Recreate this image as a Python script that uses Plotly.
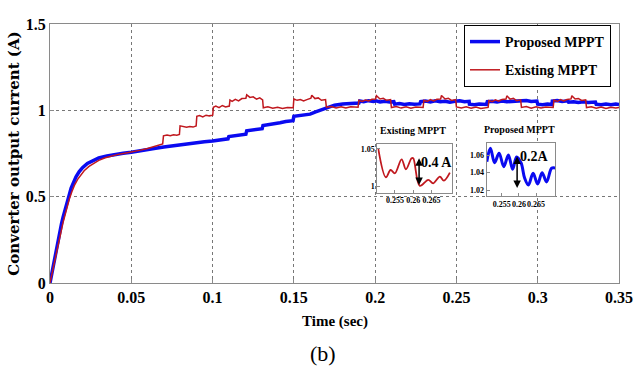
import plotly.graph_objects as go

# ---------------- data ----------------
prop_t = [0, 0.001, 0.002, 0.003, 0.004, 0.005, 0.006, 0.007, 0.008, 0.009, 0.010, 0.011,
          0.012, 0.013, 0.0145, 0.016, 0.018, 0.020, 0.023, 0.026, 0.030, 0.035, 0.040,
          0.045, 0.050, 0.055, 0.060, 0.065, 0.070, 0.075, 0.080, 0.085, 0.090, 0.095,
          0.100, 0.105, 0.1095, 0.110, 0.115, 0.1205, 0.121, 0.125, 0.1305, 0.131, 0.136,
          0.1415, 0.145, 0.1495, 0.150, 0.155, 0.160, 0.163, 0.167, 0.171, 0.175, 0.180,
          0.185, 0.190, 0.1905, 0.193, 0.196, 0.199, 0.2005, 0.203, 0.206, 0.209, 0.2115,
          0.212, 0.215, 0.218, 0.221, 0.224, 0.2275, 0.228, 0.231, 0.234, 0.237, 0.240,
          0.243, 0.246, 0.249, 0.252, 0.255, 0.2578, 0.258, 0.261, 0.264, 0.2685, 0.269,
          0.272, 0.275, 0.278, 0.281, 0.2865, 0.287, 0.290, 0.293, 0.296, 0.2995, 0.300,
          0.303, 0.306, 0.3088, 0.309, 0.312, 0.315, 0.3185, 0.319, 0.322, 0.325, 0.328,
          0.331, 0.3355, 0.336, 0.339, 0.342, 0.345, 0.348, 0.350]
prop_i = [0, 0.05, 0.11, 0.16, 0.21, 0.26, 0.30, 0.34, 0.38, 0.41, 0.45, 0.48,
          0.515, 0.55, 0.585, 0.615, 0.645, 0.668, 0.692, 0.708, 0.724, 0.736, 0.745,
          0.751, 0.757, 0.763, 0.772, 0.780, 0.788, 0.795, 0.800, 0.807, 0.812, 0.818,
          0.822, 0.828, 0.835, 0.848, 0.855, 0.862, 0.882, 0.888, 0.894, 0.912, 0.918,
          0.928, 0.935, 0.940, 0.965, 0.972, 0.978, 0.990, 1.005, 1.020, 1.030, 1.037,
          1.040, 1.042, 1.054, 1.050, 1.056, 1.051, 1.055, 1.049, 1.053, 1.048, 1.050,
          1.036, 1.039, 1.034, 1.038, 1.035, 1.037, 1.050, 1.054, 1.049, 1.055, 1.050,
          1.053, 1.047, 1.052, 1.055, 1.050, 1.052, 1.036, 1.033, 1.037, 1.034, 1.050,
          1.053, 1.048, 1.054, 1.050, 1.051, 1.056, 1.052, 1.057, 1.051, 1.054, 1.036,
          1.033, 1.037, 1.034, 1.054, 1.057, 1.051, 1.055, 1.047, 1.050, 1.045, 1.049,
          1.046, 1.048, 1.035, 1.032, 1.037, 1.033, 1.036, 1.034]

exist_t = [0, 0.001, 0.0015, 0.002, 0.003, 0.004, 0.005, 0.006, 0.007, 0.008, 0.009, 0.010,
           0.011, 0.012, 0.0135, 0.015, 0.017, 0.019, 0.021, 0.024, 0.027, 0.030, 0.034,
           0.038, 0.042, 0.046, 0.050, 0.055, 0.060, 0.065, 0.0693,
           0.0698, 0.072, 0.074, 0.076, 0.078, 0.0796,
           0.0800, 0.082, 0.084, 0.086, 0.088, 0.0899,
           0.0903, 0.092, 0.094, 0.096, 0.098, 0.1001,
           0.1005, 0.102, 0.104, 0.106, 0.108, 0.1103,
           0.1107, 0.112, 0.114, 0.116, 0.118, 0.1205, 0.1210, 0.123, 0.125, 0.127, 0.129, 0.1308,
           0.1312, 0.134, 0.137, 0.140, 0.143, 0.146, 0.1496,
           0.1500, 0.152, 0.154, 0.156, 0.158, 0.1605, 0.1610, 0.163, 0.165, 0.167, 0.1695,
           0.1700, 0.173, 0.176, 0.179, 0.182, 0.185, 0.1895,
           0.1900, 0.192, 0.194, 0.196, 0.198, 0.2003, 0.2008, 0.203, 0.205, 0.207, 0.2095,
           0.2100, 0.213, 0.216, 0.219, 0.222, 0.225, 0.2295,
           0.2300, 0.232, 0.234, 0.236, 0.238, 0.2403, 0.2408, 0.243, 0.245, 0.247, 0.2495,
           0.2500, 0.253, 0.256, 0.259, 0.262, 0.265, 0.2695,
           0.2700, 0.272, 0.274, 0.276, 0.278, 0.2805, 0.2810, 0.283, 0.285, 0.287, 0.2895,
           0.2900, 0.293, 0.296, 0.299, 0.302, 0.305, 0.3095,
           0.3100, 0.312, 0.314, 0.316, 0.318, 0.3205, 0.3210, 0.323, 0.325, 0.327, 0.3295,
           0.3300, 0.333, 0.336, 0.339, 0.342, 0.345, 0.348, 0.350]
exist_i = [0, 0.045, 0.07, 0.10, 0.135, 0.19, 0.225, 0.275, 0.31, 0.35, 0.385, 0.425,
           0.455, 0.49, 0.53, 0.565, 0.60, 0.628, 0.65, 0.675, 0.695, 0.71, 0.725,
           0.737, 0.745, 0.751, 0.757, 0.768, 0.779, 0.792, 0.805,
           0.852, 0.857, 0.853, 0.858, 0.856, 0.860,
           0.910, 0.905, 0.902, 0.906, 0.903, 0.910,
           0.965, 0.970, 0.962, 0.972, 0.968, 0.972,
           1.018, 1.025, 1.015, 1.028, 1.020, 1.025,
           1.060, 1.052, 1.064, 1.055, 1.068, 1.070, 1.090, 1.075, 1.078, 1.065, 1.072, 1.060,
           1.015, 1.020, 1.012, 1.018, 1.011, 1.017, 1.015,
           1.066, 1.058, 1.062, 1.055, 1.062, 1.070, 1.088, 1.068, 1.072, 1.058, 1.062,
           1.018, 1.022, 1.014, 1.020, 1.013, 1.021, 1.018,
           1.058, 1.052, 1.060, 1.055, 1.064, 1.066, 1.085, 1.066, 1.070, 1.058, 1.062,
           1.016, 1.022, 1.013, 1.020, 1.012, 1.019, 1.016,
           1.058, 1.052, 1.062, 1.054, 1.064, 1.066, 1.086, 1.066, 1.070, 1.057, 1.062,
           1.020, 1.013, 1.021, 1.012, 1.019, 1.011, 1.017,
           1.057, 1.050, 1.061, 1.053, 1.063, 1.065, 1.084, 1.065, 1.070, 1.056, 1.061,
           1.017, 1.022, 1.012, 1.020, 1.013, 1.019, 1.016,
           1.059, 1.051, 1.062, 1.054, 1.063, 1.066, 1.085, 1.066, 1.069, 1.057, 1.061,
           1.016, 1.021, 1.012, 1.019, 1.011, 1.018, 1.013, 1.017]

# zoomed inset data
exist_zoom_t = [0.25045, 0.25255, 0.25383, 0.2550, 0.25683, 0.2580, 0.25955, 0.2600,
                0.2618, 0.2641, 0.26545, 0.26727, 0.26836, 0.2700]
exist_zoom_i = [1.0509, 1.0125, 1.0221, 1.0178, 1.0363, 1.0231, 1.0377, 1.0377,
                1.0010, 1.0090, 1.0045, 1.0133, 1.0080, 1.0186]
prop_zoom_t = [0.25063, 0.25168, 0.2529, 0.25421, 0.25558, 0.25692, 0.25815, 0.25931,
               0.26062, 0.26164, 0.26275, 0.26412, 0.26543, 0.26674, 0.26805, 0.2695, 0.27053]
prop_zoom_i = [1.0527, 1.0681, 1.0515, 1.0624, 1.0469, 1.0604, 1.0439, 1.0581,
               1.0512, 1.0339, 1.0258, 1.0393, 1.0270, 1.0400, 1.0293, 1.0451, 1.0454]

x_ticks = [0, 0.05, 0.1, 0.15, 0.2, 0.25, 0.3, 0.35]
x_tick_labels = ["0", "0.05", "0.1", "0.15", "0.2", "0.25", "0.3", "0.35"]
y_ticks = [0, 0.5, 1, 1.5]
y_tick_labels = ["0", "0.5", "1", "1.5"]
zoom_x_ticks = [0.255, 0.26, 0.265]
zoom_x_labels = ["0.255", "0.26", "0.265"]
exist_zoom_y_ticks = [1, 1.05]
exist_zoom_y_labels = ["1", "1.05"]
prop_zoom_y_ticks = [1.02, 1.04, 1.06]
prop_zoom_y_labels = ["1.02", "1.04", "1.06"]

BLUE = "#0a0af0"
RED = "#c0181e"

# ---------------- layout geometry (pixels) ----------------
W, H = 635, 367
L, R, T, B = 50, 619, 24, 283


def px(x):
    return (x - L) / (R - L)


def py(y):
    return (B - y) / (B - T)


SERIF = "Liberation Serif"

fig = go.Figure()
fig.add_trace(go.Scatter(x=prop_t, y=prop_i, mode="lines", name="Proposed MPPT",
                         line=dict(color=BLUE, width=3.5), legendgroup="p"))
fig.add_trace(go.Scatter(x=exist_t, y=exist_i, mode="lines", name="Existing MPPT",
                         line=dict(color=RED, width=1.5), legendgroup="e"))
fig.add_trace(go.Scatter(x=exist_zoom_t, y=exist_zoom_i, mode="lines", showlegend=False,
                         line=dict(color=RED, width=1.8, shape="spline"),
                         xaxis="x2", yaxis="y2"))
fig.add_trace(go.Scatter(x=prop_zoom_t, y=prop_zoom_i, mode="lines", showlegend=False,
                         line=dict(color=BLUE, width=3, shape="spline"),
                         xaxis="x3", yaxis="y3"))

axis_common = dict(showline=True, mirror=True, linecolor="#8a8a8a", linewidth=1,
                   ticks="inside", ticklen=4, tickcolor="#8a8a8a", zeroline=False,
                   automargin=False)

inset_common = dict(showline=True, mirror=True, linecolor="#8a8a8a", linewidth=1,
                    ticks="inside", ticklen=3, tickcolor="#8a8a8a", zeroline=False,
                    showgrid=False, tickangle=0, automargin=False,
                    tickfont=dict(family=SERIF, size=8, color="black", weight="bold"))

fig.update_layout(
    width=W, height=H,
    margin=dict(l=L, r=W - R, t=T, b=H - B),
    paper_bgcolor="white", plot_bgcolor="white",
    xaxis=dict(range=[0, 0.35], tickvals=x_ticks, ticktext=x_tick_labels,
               showgrid=True, griddash="dot", gridcolor="#777", gridwidth=1,
               tickfont=dict(family=SERIF, size=16, color="black", weight="bold"),
               **axis_common),
    yaxis=dict(range=[0, 1.5], tickvals=y_ticks, ticktext=y_tick_labels,
               showgrid=True, griddash="dot", gridcolor="#777", gridwidth=1,
               tickfont=dict(family=SERIF, size=16, color="black", weight="bold"),
               title=dict(text="Converter output current (A)", standoff=2,
                          font=dict(family="DejaVu Serif", size=15, color="black",
                                    weight="bold")),
               **axis_common),
    xaxis2=dict(domain=[px(377.3), px(451.7)], anchor="y2", range=[0.2502, 0.2705],
                tickvals=zoom_x_ticks, ticktext=zoom_x_labels, **inset_common),
    yaxis2=dict(domain=[py(192.7), py(144)], anchor="x2", range=[0.992, 1.0566],
                tickvals=exist_zoom_y_ticks, ticktext=exist_zoom_y_labels, **inset_common),
    xaxis3=dict(domain=[px(486.7), px(555)], anchor="y3", range=[0.2506, 0.2705],
                tickvals=zoom_x_ticks, ticktext=zoom_x_labels, **inset_common),
    yaxis3=dict(domain=[py(196), py(143.3)], anchor="x3", range=[1.0131, 1.0738],
                tickvals=prop_zoom_y_ticks, ticktext=prop_zoom_y_labels, **inset_common),
    legend=dict(x=px(611), y=py(25), xanchor="right", yanchor="top",
                bgcolor="white", bordercolor="black", borderwidth=1,
                font=dict(family=SERIF, size=14, color="black", weight="bold"),
                itemwidth=30, tracegroupgap=7),
    showlegend=True,
)

annotations = [
    dict(text="Time (sec)", x=px(335), y=py(321), xref="paper", yref="paper",
         showarrow=False, xanchor="center", yanchor="middle",
         font=dict(family=SERIF, size=15, color="black", weight="bold")),
    dict(text="(b)", x=px(322.5), y=py(353), xref="paper", yref="paper",
         showarrow=False, xanchor="center", yanchor="middle",
         font=dict(family=SERIF, size=22, color="black")),
    dict(text="Existing MPPT", x=px(413), y=py(130), xref="paper", yref="paper",
         showarrow=False, xanchor="center", yanchor="middle",
         font=dict(family=SERIF, size=10, color="black", weight="bold")),
    dict(text="Proposed MPPT", x=px(519.5), y=py(129), xref="paper", yref="paper",
         showarrow=False, xanchor="center", yanchor="middle",
         font=dict(family=SERIF, size=10, color="black", weight="bold")),
    dict(text="0.4 A", x=px(436.5), y=py(162.7), xref="paper", yref="paper",
         showarrow=False, xanchor="center", yanchor="middle",
         font=dict(family=SERIF, size=14, color="black", weight="bold")),
    dict(text="0.2A", x=px(534.7), y=py(156.7), xref="paper", yref="paper",
         showarrow=False, xanchor="center", yanchor="middle",
         font=dict(family=SERIF, size=14, color="black", weight="bold")),
    dict(text="", x=0.2616, y=1.0023, ax=0.2616, ay=1.0398, xref="x2", yref="y2",
         axref="x2", ayref="y2", showarrow=True, arrowhead=2, arrowside="end+start",
         arrowsize=1, arrowwidth=1.5, arrowcolor="black", standoff=0, startstandoff=0),
    dict(text="", x=0.25946, y=1.0224, ax=0.25946, ay=1.0604, xref="x3", yref="y3",
         axref="x3", ayref="y3", showarrow=True, arrowhead=2, arrowside="end+start",
         arrowsize=1, arrowwidth=1.5, arrowcolor="black", standoff=0, startstandoff=0),
]
fig.update_layout(annotations=annotations)

fig.write_html("out.html")
